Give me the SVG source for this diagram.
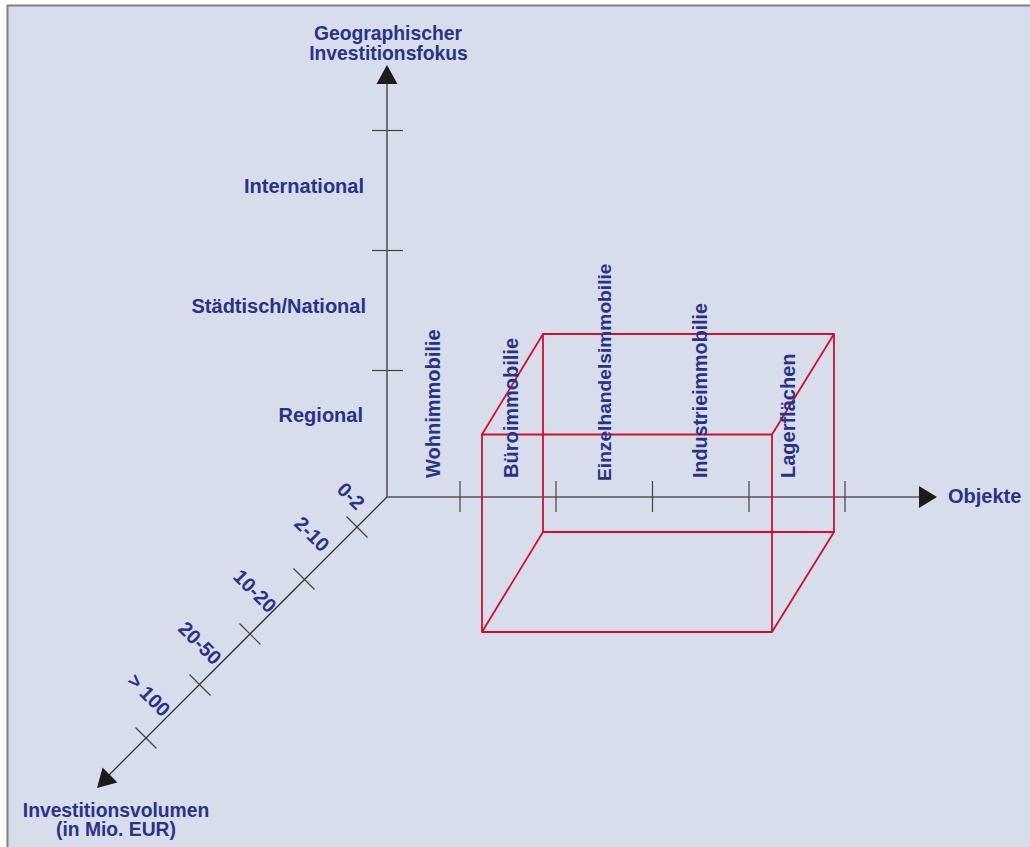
<svg xmlns="http://www.w3.org/2000/svg" width="1030" height="847" viewBox="0 0 1030 847">
<style>
.lbl{font-family:"Liberation Sans",Arial,sans-serif;font-weight:bold;font-size:20px;fill:#27338a}
.top{font-size:19.3px}
.axis{stroke:#555;stroke-width:1.6;fill:none}
.tick{stroke:#444;stroke-width:1.2;fill:none}
.head{fill:#1c1c1c}
.box{stroke:#d0102a;stroke-width:1.8;fill:none;stroke-linejoin:round}
</style>
<rect x="0" y="0" width="1030" height="847" fill="#ffffff"/>
<rect x="7" y="5" width="1023" height="842" fill="#d8ddec"/>
<line x1="7" y1="5.5" x2="1030" y2="5.5" stroke="#7f8084" stroke-width="2"/>
<line x1="7.5" y1="5" x2="7.5" y2="847" stroke="#7f8084" stroke-width="2"/>

<g id="connectors">
  <g id="axis-vertical">
    <line class="axis" x1="387" y1="497" x2="387" y2="82"/>
    <polygon class="head" points="387,65 376.5,84 397.5,84"/>
    <line class="tick" x1="372" y1="130.5" x2="403" y2="130.5"/>
    <line class="tick" x1="372" y1="250.5" x2="403" y2="250.5"/>
    <line class="tick" x1="372" y1="370.5" x2="403" y2="370.5"/>
  </g>
  <g id="axis-horizontal">
    <line class="axis" x1="387" y1="497" x2="921" y2="497"/>
    <polygon class="head" points="937,497 919,486 919,508"/>
    <line class="tick" x1="460" y1="481" x2="460" y2="512"/>
    <line class="tick" x1="556" y1="481" x2="556" y2="512"/>
    <line class="tick" x1="652.5" y1="481" x2="652.5" y2="512"/>
    <line class="tick" x1="749" y1="481" x2="749" y2="512"/>
    <line class="tick" x1="845" y1="481" x2="845" y2="512"/>
  </g>
  <g id="axis-diagonal">
    <line class="axis" x1="387" y1="497" x2="108" y2="776" style="stroke:#333;stroke-width:1.3"/>
    <polygon class="head" points="97,788 102.6,767.6 117.4,782.4"/>
    <line class="tick" x1="346.5" y1="516.5" x2="367.5" y2="537.5"/>
    <line class="tick" x1="293.5" y1="568.5" x2="314.5" y2="589.5"/>
    <line class="tick" x1="239.5" y1="623.5" x2="260.5" y2="644.5"/>
    <line class="tick" x1="189.5" y1="674.5" x2="210.5" y2="695.5"/>
    <line class="tick" x1="135.5" y1="727.5" x2="156.5" y2="748.5"/>
  </g>
</g>

<g id="box">
  <polygon class="box" points="482,434.5 772,434.5 772,632 482,632"/>
  <polygon class="box" points="543,334 834,334 834,532 543,532"/>
  <line class="box" x1="482" y1="434.5" x2="543" y2="334"/>
  <line class="box" x1="772" y1="434.5" x2="834" y2="334"/>
  <line class="box" x1="772" y1="632" x2="834" y2="532"/>
  <line class="box" x1="482" y1="632" x2="543" y2="532"/>
</g>

<g id="label-geo">
  <text class="lbl top" x="388" y="40" text-anchor="middle">Geographischer</text>
  <text class="lbl top" x="388.5" y="60" text-anchor="middle">Investitionsfokus</text>
</g>
<g id="label-international"><text class="lbl" x="364" y="193" text-anchor="end">International</text></g>
<g id="label-staedtisch"><text class="lbl" x="366" y="313" text-anchor="end">Städtisch/National</text></g>
<g id="label-regional"><text class="lbl" x="363" y="422" text-anchor="end">Regional</text></g>

<g id="label-objekte"><text class="lbl" x="948" y="503">Objekte</text></g>
<g id="label-wohn"><text class="lbl" transform="translate(440,478) rotate(-90)">Wohnimmobilie</text></g>
<g id="label-buero"><text class="lbl" transform="translate(518,478) rotate(-90)">Büroimmobilie</text></g>
<g id="label-einzel"><text class="lbl" style="font-size:19.2px" transform="translate(611,481) rotate(-90)">Einzelhandelsimmobilie</text></g>
<g id="label-industrie"><text class="lbl" style="font-size:19.7px" transform="translate(707,478) rotate(-90)">Industrieimmobilie</text></g>
<g id="label-lager"><text class="lbl" transform="translate(795,478) rotate(-90)">Lagerflächen</text></g>

<g id="label-0-2"><text class="lbl" text-anchor="middle" transform="translate(351,496) rotate(45)" dy="7">0-2</text></g>
<g id="label-2-10"><text class="lbl" text-anchor="middle" transform="translate(312,534) rotate(45)" dy="7">2-10</text></g>
<g id="label-10-20"><text class="lbl" text-anchor="middle" transform="translate(255,591) rotate(45)" dy="7">10-20</text></g>
<g id="label-20-50"><text class="lbl" text-anchor="middle" transform="translate(200,643) rotate(45)" dy="7">20-50</text></g>
<g id="label-100"><text class="lbl" text-anchor="middle" transform="translate(149,695) rotate(45)" dy="7">&gt; 100</text></g>

<g id="label-volumen">
  <text class="lbl top" x="116" y="817" text-anchor="middle">Investitionsvolumen</text>
  <text class="lbl top" x="116" y="836" text-anchor="middle">(in Mio. EUR)</text>
</g>
</svg>
